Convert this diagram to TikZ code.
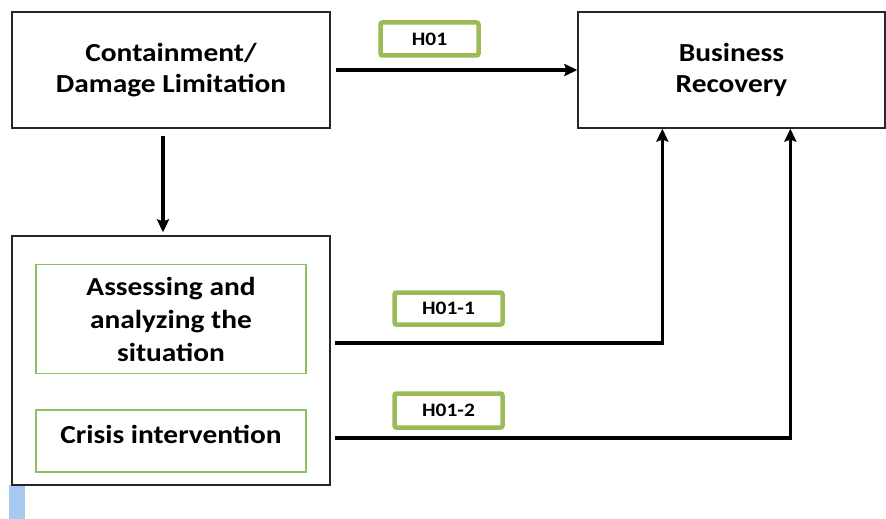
\documentclass[tikz,border=0pt]{standalone}
\usepackage{fontspec}
\setmainfont{Carlito}[FakeStretch=1.13]
\usepackage{tikz}
\usetikzlibrary{arrows.meta, positioning}
\definecolor{hgreen}{HTML}{9BBB59}
\definecolor{igreen}{HTML}{8CC063}
\definecolor{barblue}{HTML}{A6C9EF}
\begin{document}
\begin{tikzpicture}[x=1pt, y=-1pt]

\tikzstyle{field} = [rectangle, draw=black!85, line width=1.3pt, inner sep=0pt, text centered, align=center, font=\fontsize{26}{31}\selectfont\bfseries]
\tikzstyle{inner} = [rectangle, draw=igreen, line width=1.2pt, inner sep=0pt, text centered, align=center, font=\fontsize{26}{33}\selectfont\bfseries]
\tikzstyle{hyp} = [rectangle, rounded corners=2pt, draw=hgreen, line width=4.5pt, inner sep=0pt, minimum width=98pt, font=\fontsize{19}{22}\selectfont\bfseries]
\tikzstyle{arrow} = [line width=3.6pt, -{Stealth[length=13pt, width=12pt, inset=2pt]}]

\useasboundingbox (0,0) rectangle (886,519);

% base boxes
\node (contain)[field, minimum width=318pt, minimum height=116pt] at (171,70) {Containment/\\Damage Limitation};
\node (recovery)[field, minimum width=307pt, minimum height=116pt] at (731.5,70) {Business\\Recovery};

% lower box
\fill[barblue] (9,485) rectangle (25,519);
\node (outer)[field, fill=white, minimum width=318pt, minimum height=249pt] at (171,360.5) {};
\node (assess)[inner, minimum width=270pt, minimum height=109pt] at (171,319) {Assessing and\\analyzing the\\situation};
\node (crisis)[inner, minimum width=270pt, minimum height=62pt, text depth=14pt] at (171,441) {Crisis intervention};

% hypotheses
\node (h01)[hyp, minimum width=98pt, minimum height=33pt] at (429.5,39) {H01};
\node (h011)[hyp, minimum width=108pt, minimum height=32pt] at (448.5,308.5) {H01-1};
\node (h012)[hyp, minimum width=108pt, minimum height=34pt] at (448.5,410.5) {H01-2};

% arrows
\coordinate (h1in) at (335,343);
\coordinate (h2in) at (335,438);
\draw[arrow] ([xshift=5pt]contain.east) -- (recovery.west);
\draw[arrow] ([xshift=-8pt, yshift=-7pt]contain.south) -- ([xshift=-8pt, yshift=3pt]outer.north);
\draw[arrow] (h1in) -| ([xshift=85pt]recovery.south west);
\draw[arrow] (h2in) -| ([xshift=213pt]recovery.south west);

\end{tikzpicture}
\end{document}
